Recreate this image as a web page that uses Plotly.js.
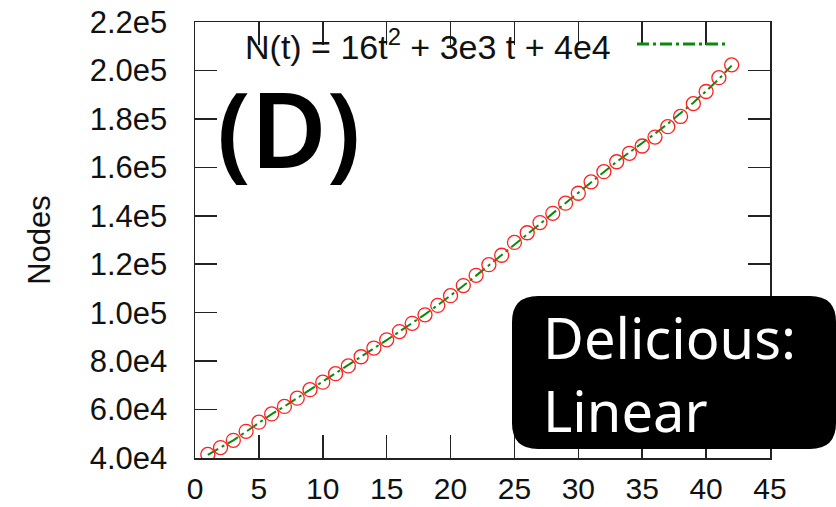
<!DOCTYPE html>
<html>
<head>
<meta charset="utf-8">
<script src="https://cdn.plot.ly/plotly-3.0.1.min.js"></script>
<style>html,body{margin:0;padding:0;background:#fff;}#chart{width:836px;height:507px;}</style>
</head>
<body>
<div id="chart"></div>
<script>
// ---- data ----
var timeSteps = [1,2,3,4,5,6,7,8,9,10,11,12,13,14,15,16,17,18,19,20,21,22,23,24,25,26,27,28,29,30,31,32,33,34,35,36,37,38,39,40,41,42];
var nodeCounts = [41500,44300,47300,51000,54800,58200,61300,64700,68200,71300,74800,78000,81800,85400,88800,92200,95600,99100,103000,107000,111200,115400,119800,123700,129000,133000,137200,141000,145200,149300,154000,158200,162300,165800,168800,172500,176800,181000,186300,191300,197000,202300];
var fitCounts = [41300,44200,47300,50900,54600,58100,61300,64700,68100,71400,74800,78200,81700,85200,88700,92200,95700,99300,103100,107000,111100,115300,119500,123700,128000,132300,136600,141000,145300,149500,153800,158100,162300,166200,169900,173900,178000,182300,186700,191500,196500,202000];
var xTickVals = [0,5,10,15,20,25,30,35,40,45];
var xTickText = ['0','5','10','15','20','25','30','35','40','45'];
var yTickVals = [40000,60000,80000,100000,120000,140000,160000,180000,200000,220000];
var yTickText = ['4.0e4','6.0e4','8.0e4','1.0e5','1.2e5','1.4e5','1.6e5','1.8e5','2.0e5','2.2e5'];
var fitLabel = 'N(t) = 16t<sup>2</sup> + 3e3 t + 4e4';
var panelLabel = '(D)';
var boxLabel = 'Delicious:<br>Linear';

// ---- layout geometry ----
var W = 836, H = 507;
var L = 195, R = 770, T = 22, B = 458;
function px(x){ return (x - L) / (R - L); }
function py(y){ return (B - y) / (B - T); }

var fitDash = '12px,4px,3px,4px';

var traces = [
  {
    x: timeSteps, y: fitCounts, type: 'scatter', mode: 'lines',
    line: {color: '#0a8a0a', width: 2, dash: fitDash},
    showlegend: false, hoverinfo: 'skip'
  },
  {
    x: timeSteps, y: nodeCounts, type: 'scatter', mode: 'markers',
    marker: {symbol: 'circle-open', size: 14, color: '#ff2020', line: {width: 1.3, color: '#ff2020'}},
    showlegend: false
  }
];

// rounded box path in paper coordinates
var bx0 = px(512), bx1 = px(836), by0 = py(449), by1 = py(296);
var rx = 26 / (R - L), ry = 26 / (B - T);
var boxPath = 'M ' + (bx0 + rx) + ' ' + by1 +
  ' L ' + (bx1 - rx) + ' ' + by1 +
  ' Q ' + bx1 + ' ' + by1 + ' ' + bx1 + ' ' + (by1 - ry) +
  ' L ' + bx1 + ' ' + (by0 + ry) +
  ' Q ' + bx1 + ' ' + by0 + ' ' + (bx1 - rx) + ' ' + by0 +
  ' L ' + (bx0 + rx) + ' ' + by0 +
  ' Q ' + bx0 + ' ' + by0 + ' ' + bx0 + ' ' + (by0 + ry) +
  ' L ' + bx0 + ' ' + (by1 - ry) +
  ' Q ' + bx0 + ' ' + by1 + ' ' + (bx0 + rx) + ' ' + by1 + ' Z';

var tickFont = {family: 'Liberation Sans, Arial, sans-serif', size: 30, color: '#111'};

var layout = {
  width: W, height: H,
  margin: {l: L, r: W - R, t: T, b: H - B, pad: 0},
  paper_bgcolor: '#fff', plot_bgcolor: '#fff',
  showlegend: false,
  xaxis: {
    range: [0, 45], tickmode: 'array', tickvals: xTickVals, ticktext: xTickText,
    ticks: 'inside', ticklen: 23, tickwidth: 1.5, tickcolor: '#222',
    showline: true, linecolor: '#222', linewidth: 1.5, mirror: 'ticks',
    showgrid: false, zeroline: false, tickfont: tickFont, ticklabelstandoff: 3
  },
  yaxis: {
    range: [40000, 220000], tickmode: 'array', tickvals: yTickVals, ticktext: yTickText,
    ticks: 'inside', ticklen: 22, tickwidth: 1.5, tickcolor: '#222',
    showline: true, linecolor: '#222', linewidth: 1.5, mirror: 'ticks',
    showgrid: false, zeroline: false, tickfont: {family: 'Liberation Sans, Arial, sans-serif', size: 31, color: '#111'}, ticklabelstandoff: 20,
    title: {text: 'Nodes', font: {family: 'Liberation Sans, Arial, sans-serif', size: 31, color: '#111'}, standoff: 30}
  },
  shapes: [
    {type: 'line', xref: 'paper', yref: 'paper', x0: px(637), x1: px(729), y0: py(44), y1: py(44),
     line: {color: '#0a8a0a', width: 3, dash: fitDash}},
    {type: 'path', xref: 'paper', yref: 'paper', path: boxPath, fillcolor: '#000', line: {width: 0}, layer: 'above'}
  ],
  annotations: [
    {xref: 'paper', yref: 'paper', x: px(613), y: py(45), xanchor: 'right', yanchor: 'middle', showarrow: false,
     text: fitLabel, font: {family: 'Liberation Sans, Arial, sans-serif', size: 34, color: '#111'}},
    {xref: 'paper', yref: 'paper', x: px(289), y: py(127), xanchor: 'center', yanchor: 'middle', showarrow: false,
     text: panelLabel, font: {family: 'Noto Sans, Open Sans, sans-serif', size: 104, color: '#000', weight: 600}},
    {xref: 'paper', yref: 'paper', x: px(541), y: py(373), xanchor: 'left', yanchor: 'middle', align: 'left', showarrow: false,
     text: boxLabel, font: {family: 'Noto Sans, Open Sans, sans-serif', size: 56, color: '#fff'}}
  ]
};

Plotly.newPlot('chart', traces, layout, {staticPlot: true, displayModeBar: false});
</script>
</body>
</html>
